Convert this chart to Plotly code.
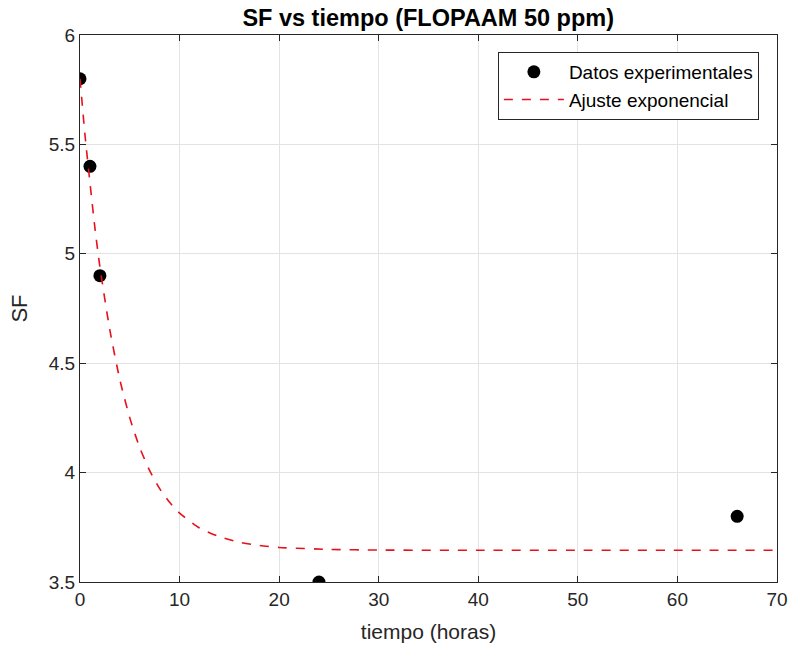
import plotly.graph_objects as go

# Experimental data
t_data = [0, 1, 2, 24, 66]
sf_data = [5.8, 5.4, 4.9, 3.5, 3.8]

# Fitted curve, values
t_fit = [0, 0.5, 1, 1.5, 2, 3, 4, 5, 6, 7, 8, 9, 10, 12, 14, 16, 18, 20, 25, 30, 40, 50, 60, 70]
sf_fit = [5.80, 5.543, 5.325, 5.117, 4.94, 4.651, 4.425, 4.25, 4.114, 4.009, 3.927, 3.864,
          3.815, 3.747, 3.707, 3.682, 3.667, 3.658, 3.649, 3.646, 3.645, 3.645, 3.645, 3.645]

x_ticks = [0, 10, 20, 30, 40, 50, 60, 70]
y_ticks = [3.5, 4, 4.5, 5, 5.5, 6]

tick_font = dict(family="Liberation Sans, Arial", size=19, color="#262626")

fig = go.Figure()
fig.add_trace(go.Scatter(
    x=t_data, y=sf_data, mode="markers", name="Datos experimentales",
    marker=dict(color="black", size=13, symbol="circle"),
))
fig.add_trace(go.Scatter(
    x=t_fit, y=sf_fit, mode="lines", name="Ajuste exponencial",
    line=dict(color="#e8101a", width=1.6, dash="dash", shape="spline", smoothing=0.6),
))

axis_common = dict(
    showline=True, linecolor="#262626", linewidth=1, mirror="ticks",
    ticks="inside", ticklen=6, tickcolor="#262626",
    showgrid=True, gridcolor="#e3e3e3", gridwidth=1, zeroline=False,
    tickfont=tick_font, automargin=False,
)

fig.update_layout(
    width=793, height=651,
    margin=dict(l=80, r=16, t=35, b=69),
    paper_bgcolor="white", plot_bgcolor="white",
    title=dict(text="<b>SF vs tiempo (FLOPAAM 50 ppm)</b>", x=0.54, xanchor="center",
               y=0.973, yanchor="middle",
               font=dict(family="Liberation Sans, Arial", size=23.5, color="black")),
    xaxis=dict(range=[0, 70], tickvals=x_ticks, ticktext=[str(v) for v in x_ticks],
               title=dict(text="tiempo (horas)", font=dict(family="Liberation Sans, Arial", size=21, color="#262626"), standoff=15),
               **axis_common),
    yaxis=dict(range=[3.5, 6], tickvals=y_ticks, ticktext=[str(v) for v in y_ticks],
               title=dict(text="SF", font=dict(family="Liberation Sans, Arial", size=22, color="#262626"), standoff=15),
               **axis_common),
    legend=dict(x=0.974, y=0.969, xanchor="right", yanchor="top",
                bgcolor="white", bordercolor="#262626", borderwidth=1,
                font=dict(family="Liberation Sans, Arial", size=19, color="black"),
                tracegroupgap=0, itemwidth=60),
    showlegend=True,
)

fig.write_html("out.html")
